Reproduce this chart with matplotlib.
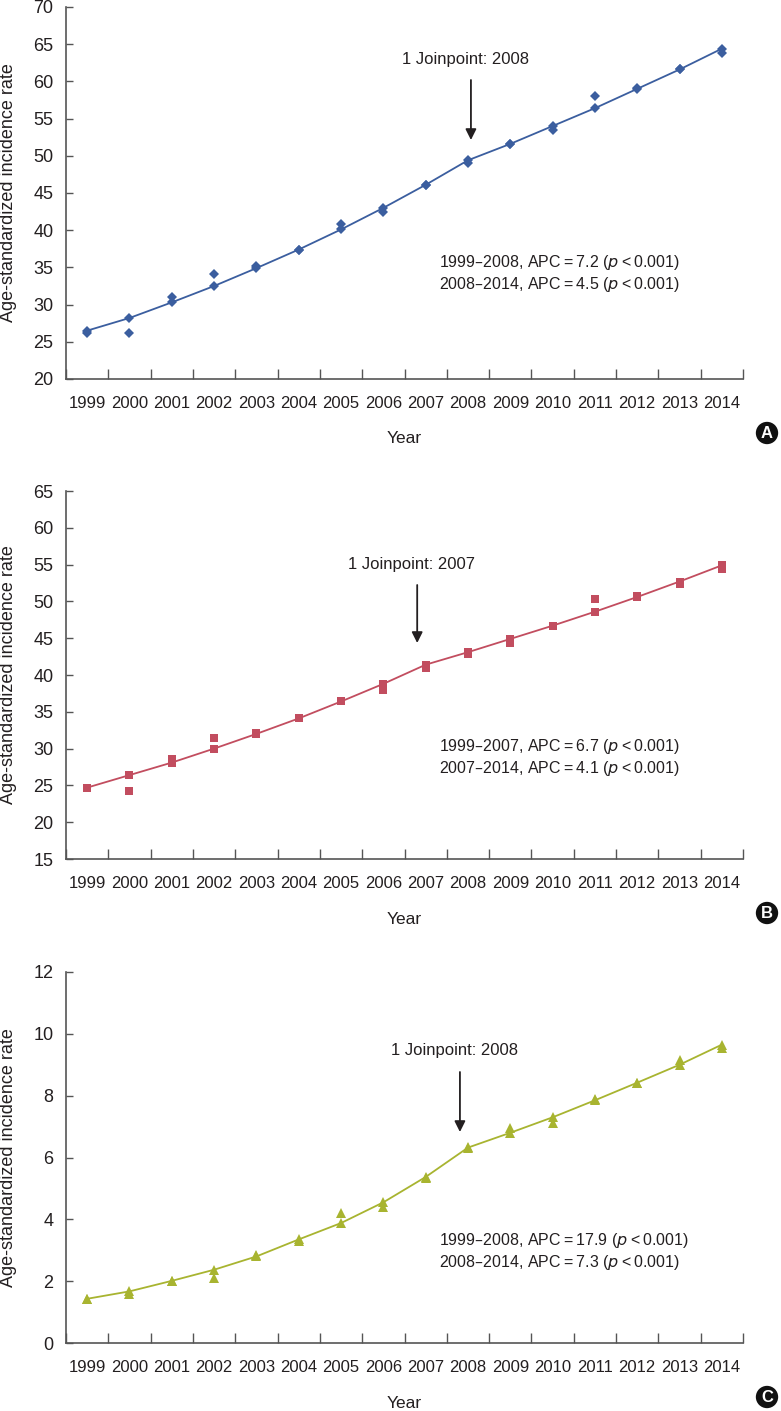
import numpy as np
import matplotlib
matplotlib.use("Agg")
import matplotlib.pyplot as plt

years = list(range(1999, 2015))

# panel A
a_fit = [26.5, 28.2, 30.3, 32.5, 34.9, 37.4, 40.1, 43.0, 46.1, 49.4, 51.6, 54.0, 56.4, 59.0, 61.6, 64.4]
a_obs = [26.2, 26.2, 31.0, 34.1, 35.2, 37.4, 40.8, 42.5, 46.1, 49.0, 51.6, 53.5, 58.1, 59.1, 61.6, 63.8]
# panel B
b_fit = [24.7, 26.4, 28.1, 30.0, 32.0, 34.1, 36.4, 38.8, 41.4, 43.1, 44.9, 46.7, 48.6, 50.6, 52.7, 54.9]
b_obs = [24.7, 24.2, 28.6, 31.4, 32.1, 34.1, 36.5, 38.0, 41.0, 42.9, 44.3, 46.6, 50.3, 50.7, 52.4, 54.4]
# panel C
c_fit = [1.43, 1.67, 2.01, 2.37, 2.80, 3.35, 3.88, 4.55, 5.37, 6.32, 6.80, 7.30, 7.85, 8.42, 9.00, 9.65]
c_obs = [1.43, 1.60, 2.01, 2.10, 2.85, 3.30, 4.20, 4.40, 5.35, 6.35, 6.95, 7.10, 7.90, 8.42, 9.15, 9.55]

joinpoints = [2008, 2007, 2008]
apc_lines = [
    ("1999\u20132008, APC\u2009=\u20097.2 (", "2008\u20132014, APC\u2009=\u20094.5 ("),
    ("1999\u20132007, APC\u2009=\u20096.7 (", "2007\u20132014, APC\u2009=\u20094.1 ("),
    ("1999\u20132008, APC\u2009=\u200917.9 (", "2008\u20132014, APC\u2009=\u20097.3 ("),
]
ylims = [(20, 70, 5), (15, 65, 5), (0, 12, 2)]
colors = ["#3B5E9F", "#C24D5F", "#A8B430"]
markers = ["D", "s", "^"]
msizes = [5.5, 5.5, 6.5]
panel_tags = ["A", "B", "C"]

plt.rcParams["font.family"] = ["Liberation Sans", "DejaVu Sans"]
plt.rcParams["font.size"] = 12
ink = "#231f20"

fig = plt.figure(figsize=(7.81, 14.11), dpi=100)
W, H = 781, 1411
# axes boxes in pixels: (top, bottom)
boxes = [(7, 379), (491, 859), (972, 1343)]
left_px, right_px = 66, 743
span = right_px - left_px

data = [(a_fit, a_obs), (b_fit, b_obs), (c_fit, c_obs)]
# joinpoint annotation: text y, arrow top, arrow bottom (pixels)
jp_px = [(60, 80, 140), (564, 585, 643), (1051, 1072, 1132)]
arrow_dx = [0.07, -0.2, -0.19]
text_dx = [-0.05, -0.33, -0.31]
apc_px = [(263, 285), (747, 769), (1240, 1262)]

for i in range(3):
    top, bot = boxes[i]
    ax = fig.add_axes([left_px / W, 1 - bot / H, span / W, (bot - top) / H])
    fit, obs = data[i]
    ax.plot(years, fit, color=colors[i], lw=1.3, marker=markers[i], ms=msizes[i],
            markeredgewidth=0, zorder=3)
    ax.plot(years, obs, ls="none", color=colors[i], marker=markers[i], ms=msizes[i],
            markeredgewidth=0, zorder=3)

    lo, hi, step = ylims[i]
    ax.set_ylim(lo, hi)
    ax.set_yticks(np.arange(lo, hi + step / 2, step))
    ax.set_xlim(1998.5, 2014.5)
    ax.set_xticks(np.arange(1998.5, 2015, 1))
    ax.set_xticklabels([])
    ax.set_xticks(years, minor=True)
    ax.set_xticklabels([str(y) for y in years], minor=True)
    ax.tick_params(axis="x", which="major", direction="in", length=7, width=1, color="#555555")
    ax.tick_params(axis="x", which="minor", length=0, pad=12, labelsize=12, labelcolor=ink)
    ax.tick_params(axis="y", direction="in", length=5, width=1, color="#555555",
                   pad=9, labelsize=13, labelcolor=ink)
    for s in ["top", "right"]:
        ax.spines[s].set_visible(False)
    for s in ["left", "bottom"]:
        ax.spines[s].set_color("#555555")
        ax.spines[s].set_linewidth(1.2)
    ax.set_xlabel("Year", fontsize=12.5, labelpad=15, color=ink)
    ax.set_ylabel("Age-standardized incidence rate", fontsize=13, color=ink)
    ax.yaxis.set_label_coords((17 - left_px) / span, 0.5)

    # joinpoint arrow
    jx = joinpoints[i]
    ty, ay0, ay1 = jp_px[i]
    to_y = lambda p: lo + (bot - p) / (bot - top) * (hi - lo)
    ax.annotate("", xy=(jx + arrow_dx[i], to_y(ay1)), xytext=(jx + arrow_dx[i], to_y(ay0)),
                arrowprops=dict(arrowstyle="-|>", color=ink, lw=1.3,
                                mutation_scale=16, shrinkA=0, shrinkB=0))
    ax.text(jx + text_dx[i], to_y(ty), f"1 Joinpoint: {jx}", ha="center", va="center",
            fontsize=12, color=ink)

    # APC text
    for line, yp in zip(apc_lines[i], apc_px[i]):
        ax.text(1998.5 + (439 - left_px) / span * 16, to_y(yp),
                line + "$\\it{p}$\u2009<\u20090.001)", ha="left", va="center",
                fontsize=11.5, color=ink)

    # panel tag
    fig.text(767 / W, 1 - (bot + 54) / H, panel_tags[i], ha="center", va="center",
             fontsize=12, fontweight="bold", color="white",
             bbox=dict(boxstyle="circle,pad=0.22", fc="#111111", ec="none"))

fig.savefig("out.png", dpi=100)
